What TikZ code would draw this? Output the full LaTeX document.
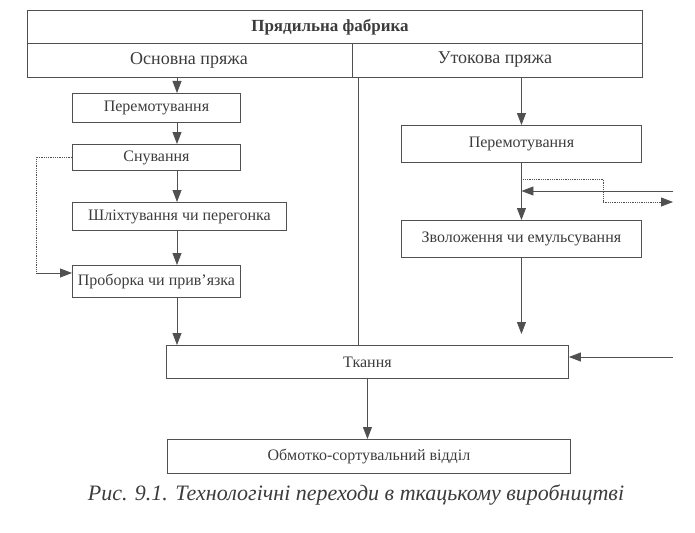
\documentclass[tikz,border=0pt]{standalone}
\usepackage{fontspec}
\setmainfont{Liberation Serif}
\usetikzlibrary{positioning,arrows.meta,calc}
\definecolor{InkGray}{RGB}{60,60,60}
\definecolor{LineGray}{RGB}{80,80,80}
\tikzset{
  flow/.style={-{Triangle[length=12pt,width=9pt]},line width=0.8pt,draw=LineGray},
  link/.style={line width=0.8pt,draw=LineGray},
  dotlink/.style={line width=0.8pt,densely dotted,draw=LineGray},
  dotflow/.style={-{Triangle[length=12pt,width=9pt]},line width=0.8pt,densely dotted,draw=LineGray},
  stage/.style={draw=LineGray,line width=0.9pt,inner sep=0pt,align=center,
    minimum height=29pt,text=InkGray,font=\fontsize{16}{18}\selectfont},
  headtext/.style={inner sep=0pt,text=InkGray,font=\fontsize{18}{20}\selectfont}
}

\begin{document}
\begin{tikzpicture}[x=1pt,y=-1pt]
  \useasboundingbox (0,0) rectangle (695,532);

  \node[draw=LineGray,line width=0.9pt,minimum width=615pt,minimum height=67pt,inner sep=0pt] (mill) at (334.5,43.5) {};
  \node[headtext,font=\fontsize{17}{19}\selectfont\bfseries] (millname) at (330,27) {Прядильна фабрика};
  \node[headtext] (warp) at (189,60) {Основна пряжа};
  \node[headtext] (weft) at (495,60) {Утокова пряжа};
  \draw[link] (mill.west |- 0,43) -- (mill.east |- 0,43);
  \draw[link] (352,43) -- (352,0 |- mill.south);

  \coordinate (warpx) at (177,0);
  \coordinate (splitx) at (358,0);

  \node[stage,minimum width=168pt,anchor=north west] (rewindA) at (72,93) {Перемотування};
  \node[stage,minimum width=168pt,minimum height=26pt,anchor=north west] (warping) at (72,144) {Снування};
  \node[stage,minimum width=214pt,minimum height=28pt,anchor=north west] (sizing) at (72,202) {Шліхтування чи перегонка};
  \node[stage,minimum width=168pt,minimum height=32pt,anchor=north west] (drawin) at (72,265) {Проборка чи прив’язка};

  \node[stage,minimum width=240pt,minimum height=37pt,anchor=north west] (rewindB) at (401,125) {Перемотування};
  \node[stage,minimum width=240pt,minimum height=37pt,anchor=north west] (moist) at (401,220) {Зволоження чи емульсування};

  \node[stage,minimum width=402pt,minimum height=33pt,anchor=north west] (weaving) at (166,345) {Ткання};
  \node[stage,minimum width=403pt,minimum height=34pt,anchor=north west] (sorting) at (167,439) {Обмотко-сортувальний відділ};

  \node[inner sep=0pt,text=InkGray,font=\fontsize{22}{25}\selectfont\itshape] (caption) at (356,495) {Рис. 9.1. Технологічні переходи в ткацькому виробництві};

  \draw[flow] (warpx |- mill.south) -- (warpx |- rewindA.north);
  \draw[flow] (warpx |- rewindA.south) -- (warpx |- warping.north);
  \draw[flow] (warpx |- warping.south) -- (warpx |- sizing.north);
  \draw[flow] (warpx |- sizing.south) -- (warpx |- drawin.north);
  \draw[flow] (warpx |- drawin.south) -- (warpx |- weaving.north);

  \draw[dotlink] (warping.west) -- ++(-36,0) coordinate (bypass) -- (bypass |- 0,273);
  \draw[flow] (bypass |- 0,273) -- (drawin.west |- 0,273);

  \draw[flow] (rewindB.north |- mill.south) -- (rewindB.north);
  \draw[flow] (rewindB) -- (moist);
  \coordinate (inflow) at (673,191);
  \draw[flow] (inflow) -- (inflow -| rewindB.south);
  \coordinate (outflow) at (673,202);
  \draw[dotflow] ($(rewindB.south)+(0,16)$) -- ++(82,0) |- (outflow);
  \draw[flow,shorten >=11pt] (moist) -- (moist.south |- weaving.north);

  \draw[link] (splitx |- mill.south) -- (splitx |- weaving.north);
  \coordinate (loomin) at (673,357);
  \draw[flow] (loomin) -- (loomin -| weaving.east);
  \draw[flow] (weaving.south) -- (weaving.south |- sorting.north);
\end{tikzpicture}
\end{document}
